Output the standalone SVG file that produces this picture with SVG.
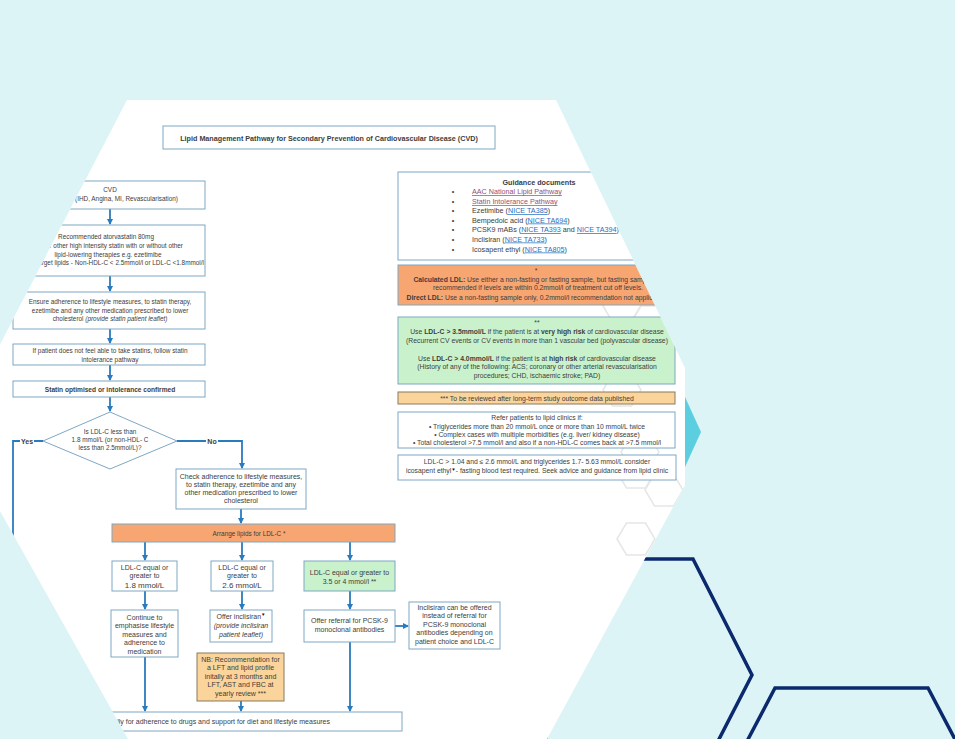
<svg xmlns="http://www.w3.org/2000/svg" width="955" height="739" viewBox="0 0 955 739">
<style>
.t{font-family:"Liberation Sans",Arial,sans-serif;font-size:6.4px;fill:#3d3d3d;text-anchor:middle}
.s7{font-size:7px}
.s72{font-size:7.2px}
.s65{font-size:6.8px}
.l{text-anchor:start}
.e{text-anchor:end}
.b{font-weight:bold}
.i{font-style:italic}
.bx{fill:#fff;stroke:#7EA7C3;stroke-width:1}
.or{fill:#F7A672;stroke:#7EA7C3;stroke-width:1}
.gr{fill:#C9F2CC;stroke:#7EA7C3;stroke-width:1}
.pe{fill:#FAD49A;stroke:#8A7A60;stroke-width:1}
.cn{fill:none;stroke:#2A7BBD;stroke-width:1.8}
.ar{marker-end:url(#ah)}
.lp{fill:#954F72;text-decoration:underline}
.lb{fill:#1F6FC0;text-decoration:underline}
.hx{fill:none;stroke:#E6E6E6;stroke-width:1.5}
.nv{fill:none;stroke:#0B2A6E;stroke-width:3.5}
</style>
<defs>
<marker id="ah" markerUnits="userSpaceOnUse" markerWidth="6" markerHeight="6" refX="5" refY="3" orient="auto">
<path d="M0,0 L6,3 L0,6 Z" fill="#2A7BBD"/>
</marker>
<clipPath id="hexclip">
<polygon points="127,100 556,100 685,368 685,485 547,739 128,739 -45,431"/>
</clipPath>
<path id="hxp" d="M-19,0 L-9.5,-16 L9.5,-16 L19,0 L9.5,16 L-9.5,16 Z"/>
</defs>

<g id="background">
<rect width="955" height="739" fill="#DDF4F7"/>
<polygon points="685,397 701,432 685,467" fill="#5BCFE0"/>
<polyline class="nv" points="600,559 693,559 752,675 716,745"/>
<polyline class="nv" points="745,745 775,688 928,688 958,745"/>
<rect x="128" y="736" width="420" height="3" fill="#5BCFE0"/>
<rect x="281" y="736" width="3" height="3" fill="#0B2A6E"/>
<rect x="486" y="736" width="3" height="3" fill="#0B2A6E"/>
</g>

<g id="flowchart" clip-path="url(#hexclip)">
<rect x="-50" y="95" width="735" height="650" fill="#fff"/>
<g id="hexpattern">
<use href="#hxp" class="hx" x="636" y="539"/>
<use href="#hxp" class="hx" x="636" y="472"/>
<use href="#hxp" class="hx" x="664" y="490"/>
<use href="#hxp" class="hx" x="622" y="306"/>
<use href="#hxp" class="hx" x="650" y="322"/>
<use href="#hxp" class="hx" x="622" y="390"/>
<use href="#hxp" class="hx" x="640" y="452"/>
</g>

<g id="connectors">
<path class="cn ar" d="M110,209 V224"/>
<path class="cn ar" d="M110,276 V291"/>
<path class="cn ar" d="M110,329 V343"/>
<path class="cn ar" d="M110,365 V380"/>
<path class="cn ar" d="M110,397 V411"/>
<path class="cn" d="M43,441 H34"/>
<path class="cn" d="M20,441 H13 V722"/>
<path class="cn" d="M177,441 H206"/>
<path class="cn ar" d="M218,441 H242 V468"/>
<path class="cn ar" d="M241,509 V523"/>
<path class="cn ar" d="M145,542 V560"/>
<path class="cn ar" d="M242,542 V560"/>
<path class="cn ar" d="M350,542 V560"/>
<path class="cn ar" d="M145,591 V609"/>
<path class="cn ar" d="M242,591 V609"/>
<path class="cn ar" d="M350,591 V609"/>
<path class="cn ar" d="M395,626 H408"/>
<path class="cn ar" d="M145,657 V711"/>
<path class="cn ar" d="M241,701 V711"/>
<path class="cn ar" d="M350,642 V711"/>
<text class="t b s7" x="27" y="443.5">Yes</text>
<text class="t b s7" x="212" y="443.5">No</text>
</g>

<g id="title">
<rect class="bx" x="163" y="126" width="332" height="23" stroke="#86B4CB"/>
<text class="t b" style="font-size:7.2px" x="329" y="140.5">Lipid Management Pathway for Secondary Prevention of Cardiovascular Disease (CVD)</text>
</g>

<g id="n-cvd">
<rect class="bx" x="15" y="181" width="190" height="28"/>
<text class="t" x="110" y="192">CVD</text>
<text class="t e" x="178" y="201">(IHD, Angina, MI, Revascularisation)</text>
</g>

<g id="n-statin">
<rect class="bx" x="15" y="225" width="190" height="51"/>
<text class="t" x="106" y="239">Recommended atorvastatin 80mg</text>
<text class="t e" x="183" y="248">or other high intensity statin with or without other</text>
<text class="t" x="108" y="256.5">lipid-lowering therapies e.g. ezetimibe</text>
<text class="t e" x="204" y="265">Target lipids - Non-HDL-C &lt; 2.5mmol/l or LDL-C &lt;1.8mmol/l</text>
</g>

<g id="n-adherence">
<rect class="bx" x="13" y="292" width="192" height="37"/>
<text class="t" x="110" y="304">Ensure adherence to lifestyle measures, to statin therapy,</text>
<text class="t" x="110" y="312.5">ezetimibe and any other medication prescribed to lower</text>
<text class="t" x="110" y="321">cholesterol <tspan class="i">(provide statin patient leaflet)</tspan></text>
</g>

<g id="n-intolerance">
<rect class="bx" x="13" y="344" width="192" height="21"/>
<text class="t" x="110" y="353">If patient does not feel able to take statins, follow statin</text>
<text class="t" x="110" y="361.5">intolerance pathway</text>
</g>

<g id="n-optimised">
<rect class="bx" x="13" y="381" width="192" height="16"/>
<text class="t b" style="font-size:6.6px" x="110" y="391.5">Statin optimised or intolerance confirmed</text>
</g>

<g id="n-decision">
<polygon class="bx" points="110,412 177,441 110,469 43,441"/>
<text class="t" x="110" y="434">Is LDL-C less than</text>
<text class="t" x="110" y="442">1.8 mmol/L (or non-HDL- C</text>
<text class="t" x="110" y="449.5">less than 2.5mmol/L)?</text>
</g>

<g id="n-check">
<rect class="bx" x="176" y="469" width="130" height="40"/>
<text class="t s7" x="241" y="478.5">Check adherence to lifestyle measures,</text>
<text class="t s7" x="241" y="486.5">to statin therapy, ezetimibe and any</text>
<text class="t s7" x="241" y="494.5">other medication prescribed to lower</text>
<text class="t s7" x="241" y="503">cholesterol</text>
</g>

<g id="n-arrange">
<rect class="or" x="112" y="524" width="283" height="18"/>
<text class="t" x="249" y="535.5">Arrange lipids for LDL-C *</text>
</g>

<g id="n-ldl18">
<rect class="bx" x="112" y="561" width="65" height="30"/>
<text class="t s7" x="144.5" y="569.5">LDL-C equal or</text>
<text class="t s7" x="144.5" y="578">greater to</text>
<text class="t" style="font-size:8px" x="144.5" y="587.5">1.8 mmol/L</text>
</g>

<g id="n-ldl26">
<rect class="bx" x="211" y="561" width="62" height="30"/>
<text class="t s7" x="242" y="569.5">LDL-C equal or</text>
<text class="t s7" x="242" y="578">greater to</text>
<text class="t" style="font-size:8px" x="242" y="587.5">2.6 mmol/L</text>
</g>

<g id="n-ldl35">
<rect class="gr" x="304" y="561" width="91" height="30"/>
<text class="t s7" x="349.5" y="574.5">LDL-C equal or greater to</text>
<text class="t s7" x="349.5" y="583.5">3.5 or 4 mmol/l **</text>
</g>

<g id="n-continue">
<rect class="bx" x="111" y="610" width="67" height="47"/>
<text class="t s7" x="144.5" y="619.5">Continue to</text>
<text class="t s7" x="144.5" y="628">emphasise lifestyle</text>
<text class="t s7" x="144.5" y="636.5">measures and</text>
<text class="t s7" x="144.5" y="645">adherence to</text>
<text class="t s7" x="144.5" y="653.5">medication</text>
</g>

<g id="n-inclisiran">
<rect class="bx" x="210" y="610" width="62" height="32"/>
<text class="t s7" x="241" y="618.5">Offer inclisiran<tspan style="font-size:4.5px" dy="-2.5" fill="#111">▼</tspan></text>
<text class="t s7 i" x="241" y="627.5">(provide inclisiran</text>
<text class="t s7 i" x="241" y="636.5">patient leaflet)</text>
</g>

<g id="n-nb">
<rect class="pe" x="197" y="653" width="87" height="48"/>
<text class="t s7" x="240.5" y="661.5">NB: Recommendation for</text>
<text class="t s7" x="240.5" y="670">a LFT and lipid profile</text>
<text class="t s7" x="240.5" y="678.5">initally at 3 months and</text>
<text class="t s7" x="240.5" y="687">LFT, AST and FBC at</text>
<text class="t s7" x="240.5" y="695.5">yearly review ***</text>
</g>

<g id="n-pcsk9">
<rect class="bx" x="304" y="610" width="91" height="32"/>
<text class="t s7" x="349.5" y="622.5">Offer referral for PCSK-9</text>
<text class="t s7" x="349.5" y="631.5">monoclonal antibodies</text>
</g>

<g id="n-alt">
<rect class="bx" x="409" y="602" width="91" height="47"/>
<text class="t s7" x="454.5" y="609.5">Inclisiran can be offered</text>
<text class="t s7" x="454.5" y="618">instead of referral for</text>
<text class="t s7" x="454.5" y="626.5">PCSK-9 monoclonal</text>
<text class="t s7" x="454.5" y="635">antibodies depending on</text>
<text class="t s7" x="454.5" y="643.5">patient choice and LDL-C</text>
</g>

<g id="n-review">
<rect class="bx" x="-20" y="712" width="422" height="19"/>
<text class="t s7 e" x="330" y="724">Review annually for adherence to drugs and support for diet and lifestyle measures</text>
</g>

<g id="n-guidance">
<rect class="bx" x="398" y="172" width="277" height="88" stroke="#8C9BCB"/>
<text class="t b s72" x="539" y="184.5">Guidance documents</text>
<text class="t s72" x="453" y="194" fill="#3A8FB0">•</text>
<text class="t s72" x="453" y="204">•</text>
<text class="t s72" x="453" y="213">•</text>
<text class="t s72" x="453" y="222.5">•</text>
<text class="t s72" x="453" y="232">•</text>
<text class="t s72" x="453" y="241.5">•</text>
<text class="t s72" x="453" y="251.5">•</text>
<text class="t s72 l" x="472" y="194"><tspan class="lp">AAC National Lipid Pathway</tspan></text>
<text class="t s72 l" x="472" y="204"><tspan class="lp">Statin Intolerance Pathway</tspan></text>
<text class="t s72 l" x="472" y="213">Ezetimibe (<tspan class="lb">NICE TA385</tspan>)</text>
<text class="t s72 l" x="472" y="222.5">Bempedoic acid (<tspan class="lb">NICE TA694</tspan>)</text>
<text class="t s72 l" x="472" y="232">PCSK9 mABs (<tspan class="lb">NICE TA393</tspan> and <tspan class="lb">NICE TA394</tspan>)</text>
<text class="t s72 l" x="472" y="241.5">Inclisiran (<tspan class="lb">NICE TA733</tspan>)</text>
<text class="t s72 l" x="472" y="251.5">Icosapent ethyl (<tspan class="lb">NICE TA805</tspan>)</text>
</g>

<g id="n-ldlnote">
<rect class="or" x="398" y="265" width="277" height="40"/>
<text class="t s65" x="536" y="272.5">*</text>
<text class="t s65" x="536" y="281.5"><tspan class="b">Calculated LDL:</tspan> Use either a non-fasting or fasting sample, but fasting sample is</text>
<text class="t s65" x="538" y="289.5">recommended if levels are within 0.2mmol/l of treatment cut off levels.</text>
<text class="t s65" x="536" y="300"><tspan class="b">Direct LDL:</tspan> Use a non-fasting sample only, 0.2mmol/l recommendation not applicable</text>
</g>

<g id="n-risk">
<rect class="gr" x="398" y="317" width="277" height="67"/>
<text class="t s65" x="537" y="324.5">**</text>
<text class="t s65" x="537" y="334">Use <tspan class="b">LDL-C &gt; 3.5mmol/L</tspan> if the patient is at <tspan class="b">very high risk</tspan> of cardiovascular disease</text>
<text class="t s65" x="537" y="342.5">(Recurrent CV events or CV events in more than 1 vascular bed (polyvascular disease)</text>
<text class="t s65" x="537" y="360.5">Use <tspan class="b">LDL-C &gt; 4.0mmol/L</tspan> if the patient is at <tspan class="b">high risk</tspan> of cardiovascular disease</text>
<text class="t s65" x="537" y="369">(History of any of the following: ACS; coronary or other arterial revascularisation</text>
<text class="t s65" x="537" y="377.5">procedures; CHD, ischaemic stroke; PAD)</text>
</g>

<g id="n-reviewnote">
<rect class="pe" x="398" y="392" width="277" height="12"/>
<text class="t s65" x="537" y="400.5">*** To be reviewed after long-term study outcome data published</text>
</g>

<g id="n-refer">
<rect class="bx" x="398" y="412" width="277" height="36"/>
<text class="t s65" x="537" y="420">Refer patients to lipid clinics if:</text>
<text class="t s65" x="537" y="428.5">• Triglycerides more than 20 mmol/L once or more than 10 mmol/L twice</text>
<text class="t s65" x="537" y="436.5">• Complex cases with multiple morbidities (e.g. liver/ kidney disease)</text>
<text class="t s65" x="537" y="444.5">• Total cholesterol &gt;7.5 mmol/l and also if a non-HDL-C comes back at &gt;7.5 mmol/l</text>
</g>

<g id="n-icosapent">
<rect class="bx" x="398" y="455" width="278" height="25"/>
<text class="t s65" x="537" y="464">LDL-C &gt; 1.04 and ≤ 2.6 mmol/L and triglycerides 1.7- 5.63 mmol/L consider</text>
<text class="t s65" x="537" y="473">icosapent ethyl<tspan style="font-size:4.5px" dy="-2.5" fill="#111">▼</tspan><tspan dy="2.5">- fasting blood test required. Seek advice and guidance from lipid clinic</tspan></text>
</g>
</g>
</svg>
